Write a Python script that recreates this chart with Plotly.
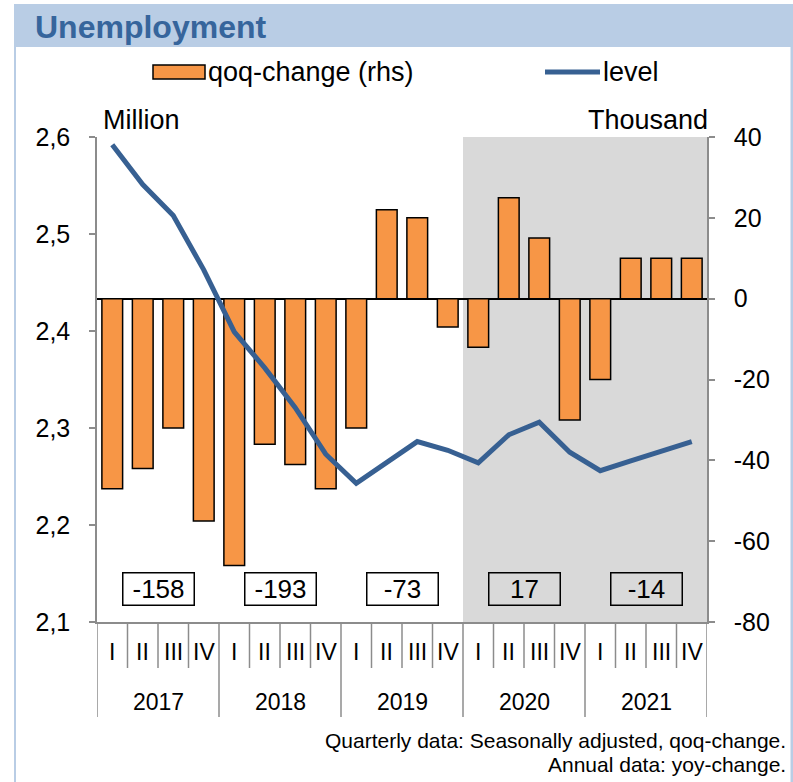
import plotly.graph_objects as go

# quarterly data, 2017 I .. 2021 IV
years = ["2017", "2018", "2019", "2020", "2021"]
quarters = ["I", "II", "III", "IV"]
qoq_change = [-47, -42, -32, -55, -66, -36, -41, -47, -32, 22,
              20, -7, -12, 25, 15, -30, -20, 10, 10, 10]
level = [2.592, 2.551, 2.519, 2.463, 2.399, 2.362, 2.321, 2.273, 2.243, 2.265,
         2.286, 2.277, 2.264, 2.293, 2.306, 2.275, 2.256, 2.266, 2.276, 2.286]
annual_change = [-158, -193, -73, 17, -14]
shaded_from = "2020"

left_ticks = [2.1, 2.2, 2.3, 2.4, 2.5, 2.6]
right_ticks = [-80, -60, -40, -20, 0, 20, 40]

FONT = "Arial, Liberation Sans, sans-serif"
ORANGE = "#F79646"
BLUE = "#376092"
AXIS = "#8C8C8C"

W, H = 793, 782
L, R, T, B = 97, 707, 137, 622


def px(x):
    return (x - L) / (R - L)


def py(y):
    return (B - y) / (B - T)


n = len(qoq_change)
xs = list(range(n))
labels_q = [quarters[i % 4] for i in xs]
year_centers = [sum(xs[4 * k:4 * k + 4]) / 4 for k in range(len(years))]

fig = go.Figure()
fig.add_trace(go.Bar(
    x=xs, y=qoq_change, name="qoq-change (rhs)", width=0.68,
    marker=dict(color=ORANGE, line=dict(color="black", width=1.5)),
    yaxis="y",
))
fig.add_trace(go.Scatter(
    x=xs, y=level, name="level", mode="lines",
    line=dict(color=BLUE, width=5), yaxis="y2",
))

shapes = []
# shaded period
start = years.index(shaded_from) * 4
shapes.append(dict(type="rect", xref="x", yref="paper", x0=start - 0.5, x1=n - 0.5,
                   y0=0, y1=1, fillcolor="#D9D9D9", line_width=0, layer="below"))
# header bar and frame
shapes.append(dict(type="rect", xref="paper", yref="paper", x0=px(14), x1=px(795),
                   y0=py(47), y1=py(4), fillcolor="#B9CDE5", line_width=0))
shapes.append(dict(type="rect", xref="paper", yref="paper", x0=px(14), x1=px(16),
                   y0=py(790), y1=py(47), fillcolor="#B9CDE5", line_width=0))
shapes.append(dict(type="rect", xref="paper", yref="paper", x0=px(790.5), x1=px(795),
                   y0=py(790), y1=py(47), fillcolor="#B9CDE5", line_width=0))
# category separators
for k in range(n + 1):
    bottom = 717 if k % 4 == 0 else 668
    shapes.append(dict(type="line", xref="x", yref="paper", x0=k - 0.5, x1=k - 0.5,
                       y0=0, y1=py(bottom), line=dict(color=AXIS, width=1.5)))
# legend symbols
shapes.append(dict(type="rect", xref="paper", yref="paper", x0=px(153), x1=px(205),
                   y0=py(79), y1=py(65), fillcolor=ORANGE,
                   line=dict(color="black", width=1.5)))
shapes.append(dict(type="line", xref="paper", yref="paper", x0=px(545), x1=px(600),
                   y0=py(72), y1=py(72), line=dict(color=BLUE, width=5)))

ann = []
ann.append(dict(text="<b>Unemployment</b>", xref="paper", yref="paper", x=px(33), y=py(27),
                xanchor="left", yanchor="middle", showarrow=False,
                font=dict(size=32, color="#36659C")))
ann.append(dict(text="qoq-change (rhs)", xref="paper", yref="paper", x=px(206), y=py(72),
                xanchor="left", yanchor="middle", showarrow=False, font=dict(size=27)))
ann.append(dict(text="level", xref="paper", yref="paper", x=px(601), y=py(72),
                xanchor="left", yanchor="middle", showarrow=False, font=dict(size=27)))
ann.append(dict(text="Million", xref="paper", yref="paper", x=px(101), y=py(120),
                xanchor="left", yanchor="middle", showarrow=False, font=dict(size=27)))
ann.append(dict(text="Thousand", xref="paper", yref="paper", x=px(710), y=py(120),
                xanchor="right", yanchor="middle", showarrow=False, font=dict(size=27)))
for x, q in zip(xs, labels_q):
    ann.append(dict(text=q, xref="x", yref="paper", x=x, y=py(652),
                    yanchor="middle", showarrow=False, font=dict(size=23)))
for xc, yr in zip(year_centers, years):
    ann.append(dict(text=yr, xref="x", yref="paper", x=xc, y=py(702),
                    yanchor="middle", showarrow=False, font=dict(size=23)))
for xc, v in zip(year_centers, annual_change):
    ann.append(dict(text=str(v), xref="x", yref="y", x=xc, y=-71.8,
                    showarrow=False, width=64, height=25, borderpad=3,
                    bordercolor="black", borderwidth=1.5, font=dict(size=26)))
ann.append(dict(text="Quarterly data: Seasonally adjusted, qoq-change.", xref="paper",
                yref="paper", x=px(788), y=py(740), xanchor="right", yanchor="middle",
                showarrow=False, font=dict(size=21)))
ann.append(dict(text="Annual data: yoy-change.", xref="paper",
                yref="paper", x=px(788), y=py(764), xanchor="right", yanchor="middle",
                showarrow=False, font=dict(size=21)))

fig.update_layout(
    width=W, height=H,
    margin=dict(l=L, r=W - R, t=T, b=H - B),
    paper_bgcolor="white", plot_bgcolor="white",
    font=dict(family=FONT, size=25, color="black"),
    separators=",.",
    showlegend=False,
    shapes=shapes, annotations=ann,
    xaxis=dict(range=[-0.5, n - 0.5], showticklabels=False, ticks="",
               showline=True, linecolor=AXIS, linewidth=1.5, showgrid=False,
               zeroline=False, fixedrange=True),
    yaxis=dict(range=[-80, 40], side="right", tickvals=right_ticks,
               ticktext=[str(v) for v in right_ticks], ticks="outside", ticklen=6,
               tickcolor=AXIS, tickwidth=1.5, showline=True, linecolor=AXIS,
               linewidth=1.5, showgrid=False, zeroline=True, zerolinecolor="black",
               zerolinewidth=1.5, ticklabelstandoff=14),
    yaxis2=dict(range=[2.1, 2.6], side="left", overlaying="y", tickvals=left_ticks,
                tickformat=".1f", ticks="outside", ticklen=6, tickcolor=AXIS,
                tickwidth=1.5, showline=True, linecolor=AXIS, linewidth=1.5,
                showgrid=False, zeroline=False, ticklabelstandoff=14),
)

fig.write_html("out.html", config={"displayModeBar": False},
               post_script="document.body.style.margin = '0';")
